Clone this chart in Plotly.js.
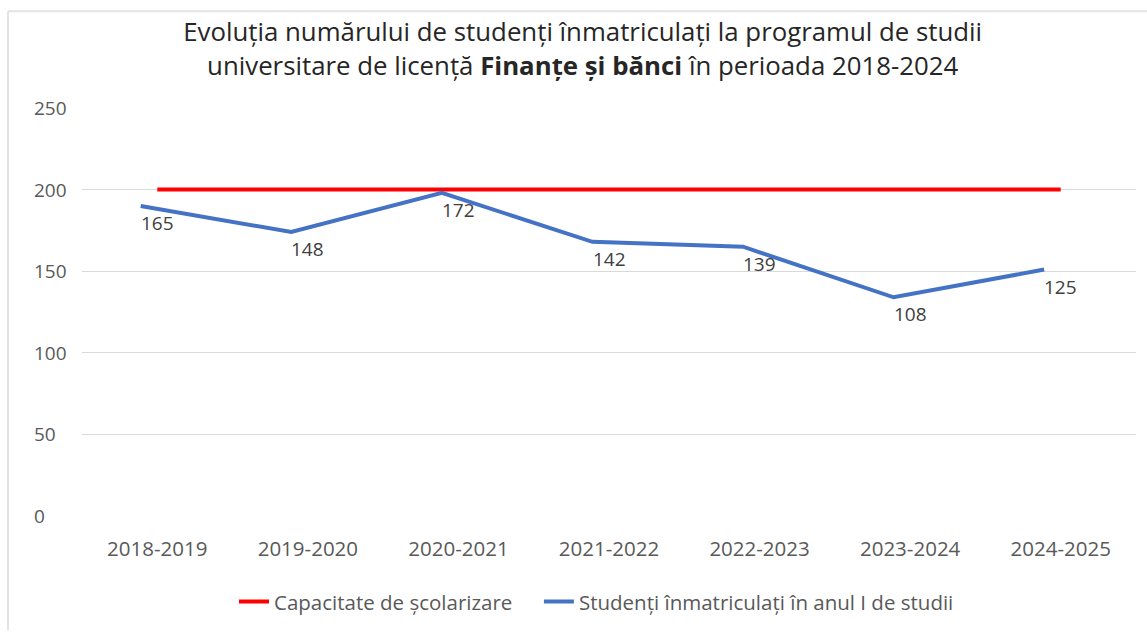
<!DOCTYPE html>
<html><head><meta charset="utf-8">
<script src="https://cdn.plot.ly/plotly-3.0.1.min.js"></script>
<style>body{margin:0;background:#fff}#c{width:1147px;height:633px}</style>
</head><body><div id="c"></div>
<script>
const years = ['2018-2019','2019-2020','2020-2021','2021-2022','2022-2023','2023-2024','2024-2025'];
const capacity = [200,200,200,200,200,200,200];
const enrolled = [190,174,198,168,165,134,151];
const enrolledLabels = ['165','148','172','142','139','108','125'];
const yTicks = [0,50,100,150,200,250];

const FONT = 'Open Sans, DejaVu Sans, sans-serif';
const traces = [
  {x: years, y: capacity, type:'scatter', mode:'lines', name:'Capacitate de școlarizare',
   line:{color:'#FF0000', width:4}, hoverinfo:'skip', legend:'legend'},
  {x: years, y: enrolled, type:'scatter', mode:'lines', name:'Studenți înmatriculați în anul I de studii',
   line:{color:'#4472C4', width:4}, xaxis:'x2', hoverinfo:'skip', legend:'legend2'}
];
const annotations = [];
years.forEach((yr,i)=>{
  annotations.push({x: yr, y: enrolled[i], xref:'x', yref:'y', text: enrolledLabels[i], showarrow:false,
    yshift:-17, xanchor:'center', yanchor:'middle', font:{family:FONT, size:19, color:'#404040'}});
});
yTicks.forEach(v=>{
  annotations.push({x:-0.0475, y:v, xref:'paper', yref:'y', text:String(v), showarrow:false,
    xanchor:'left', yanchor:'middle', font:{family:FONT, size:19, color:'#595959'}});
});
const legendFont = {family:FONT, size:20.5, color:'#595959'};
const layout = {
  width:1147, height:633,
  paper_bgcolor:'#fff', plot_bgcolor:'#fff',
  margin:{l:82, r:11, t:108, b:115},
  title:{text:'Evoluția numărului de studenți înmatriculați la programul de studii<br>universitare de licență <b>Finanțe și bănci</b> în perioada 2018-2024',
    x:0.508, xanchor:'center', y:0.935, yanchor:'top',
    font:{family:FONT, size:25.8, color:'#262626'}},
  xaxis:{type:'category', range:[-0.5,6.5], showgrid:false, zeroline:false, showline:false,
    tickfont:{family:FONT, size:20.5, color:'#595959'}, ticks:'', ticklabelstandoff:18, fixedrange:true},
  xaxis2:{type:'category', overlaying:'x', range:[-0.39,6.61], visible:false, fixedrange:true},
  yaxis:{range:[0,250], tickvals:yTicks, showticklabels:false, showgrid:true, gridcolor:'#d9d9d9', gridwidth:1,
    zeroline:false, showline:false, fixedrange:true},
  showlegend:true,
  legend:{orientation:'h', x:0.1442, xanchor:'left', y:-0.21, yanchor:'middle', font:legendFont, itemwidth:30},
  legend2:{orientation:'h', x:0.4335, xanchor:'left', y:-0.21, yanchor:'middle', font:legendFont, itemwidth:30},
  annotations: annotations,
  shapes:[
    {type:'line', xref:'paper', yref:'paper', x0:-0.0702, x1:-0.0702, y0:-0.28, y1:1.237, line:{color:'#e3e3e3', width:2}},
    {type:'line', xref:'paper', yref:'paper', x0:-0.0702, x1:1.011, y0:1.237, y1:1.237, line:{color:'#e3e3e3', width:2}}
  ]
};
Plotly.newPlot('c', traces, layout, {displayModeBar:false, staticPlot:true});
</script></body></html>
